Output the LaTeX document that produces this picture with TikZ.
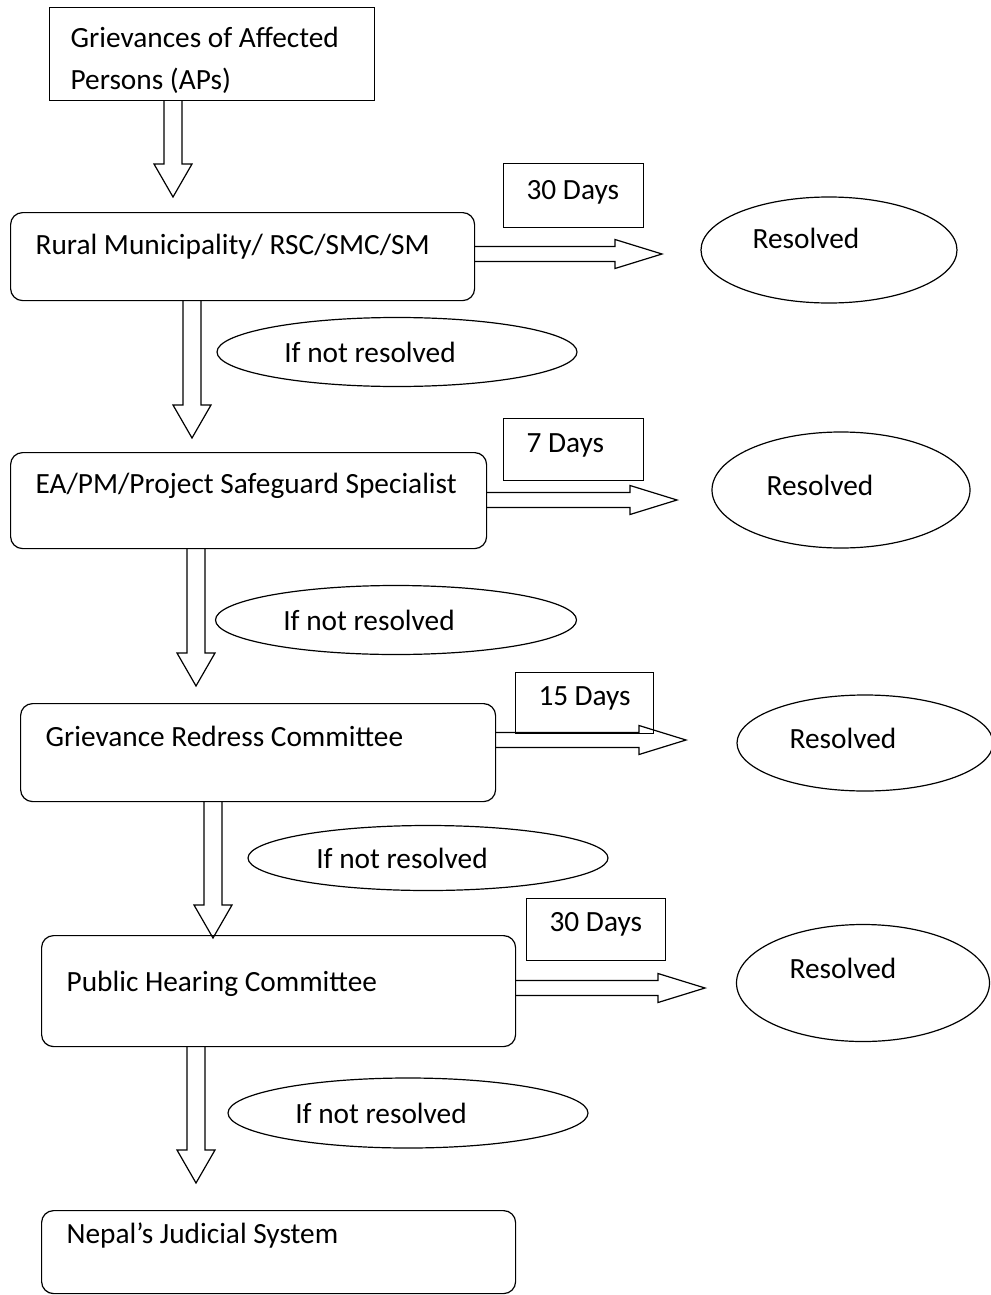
\documentclass[tikz,border=0pt]{standalone}
\usepackage{fontspec}
\setmainfont{Carlito}
\usetikzlibrary{shapes.geometric,calc}

\newcommand{\pxu}{0.75pt}
% hollow block arrow: shaft half width, joint dist/angle, barb dist/angle
\newcommand{\hollowto}[5]{%
  ($(\tikztostart)!#1!90:(\tikztotarget)$) --
  ($(\tikztotarget)!#2!-#3:(\tikztostart)$) --
  ($(\tikztotarget)!#4!-#5:(\tikztostart)$) --
  (\tikztotarget) --
  ($(\tikztotarget)!#4!#5:(\tikztostart)$) --
  ($(\tikztotarget)!#2!#3:(\tikztostart)$) --
  ($(\tikztostart)!#1!-90:(\tikztotarget)$)}

\begin{document}
\begin{tikzpicture}[x=0.75pt, y=-0.75pt, line width=0.9pt, line join=miter]
  \tikzstyle{every node}=[font=\fontsize{22}{31.5}\selectfont, execute at begin node={\spaceskip=0pt\xspaceskip=0pt\relax}]
  \tikzstyle{stage}=[draw, rounded corners=9pt, anchor=north west, inner ysep=0pt, inner xsep=25*\pxu]
  \tikzstyle{plainbox}=[draw, anchor=north west, inner ysep=0pt]
  \tikzstyle{daybox}=[draw, anchor=north west, inner ysep=0pt, inner xsep=23*\pxu]
  \tikzstyle{oval}=[draw, ellipse, inner sep=0pt]
  \tikzstyle{downarrow}=[draw, to path={\hollowto{6.75pt}{25.65pt}{15.26}{28.56pt}{29.93}}]
  \tikzstyle{sidearrow}=[draw, to path={\hollowto{5.625pt}{35.70pt}{9.07}{36.89pt}{17.15}}]

  \useasboundingbox (0,0) rectangle (990,1295);

  % steps
  \node[plainbox, text width=283*\pxu, inner xsep=21*\pxu, text height=40*\pxu, text depth=53*\pxu] (ap) at (49,7) {Grievances of Affected\\Persons (APs)};
  \node[stage, text width=414*\pxu, text height=42*\pxu, text depth=46*\pxu] (rm) at (10,212) {Rural Municipality/ RSC/SMC/SM};
  \node[stage, text width=426*\pxu, text height=41*\pxu, text depth=55*\pxu] (ea) at (10,452) {EA/PM/Project Safeguard Specialist};
  \node[stage, text width=425*\pxu, text height=43*\pxu, text depth=55*\pxu] (grc) at (20,703) {Grievance Redress Committee};
  \node[stage, text width=424*\pxu, text height=56*\pxu, text depth=55*\pxu] (phc) at (41,935) {Public Hearing Committee};
  \node[stage, text width=424*\pxu, text height=33*\pxu, text depth=50*\pxu] (njs) at (41,1210) {Nepal’s Judicial System};

  % time limits
  \node[daybox, text width=94*\pxu, text height=36*\pxu, text depth=28*\pxu] (d1) at (503,163) {30 Days};
  \node[daybox, text width=94*\pxu, text height=34*\pxu, text depth=28*\pxu] (d2) at (503,418) {7 Days};
  \node[daybox, text width=92*\pxu, text height=33*\pxu, text depth=28*\pxu] (d3) at (515,672) {15 Days};
  \node[daybox, text width=93*\pxu, text height=33*\pxu, text depth=29*\pxu] (d4) at (526,898) {30 Days};

  % outcomes
  \node[oval, minimum width=256*\pxu, minimum height=106*\pxu, label={[xshift=-23*\pxu, yshift=12*\pxu]center:Resolved}] (r1) at (829,250) {};
  \node[oval, minimum width=258*\pxu, minimum height=116*\pxu, label={[xshift=-21*\pxu, yshift=5*\pxu]center:Resolved}] (r2) at (841,490) {};
  \node[oval, minimum width=256*\pxu, minimum height=96*\pxu, label={[xshift=-22*\pxu, yshift=5*\pxu]center:Resolved}] (r3) at (865,743) {};
  \node[oval, minimum width=253*\pxu, minimum height=117*\pxu, label={[xshift=-20*\pxu, yshift=15*\pxu]center:Resolved}] (r4) at (863,983) {};

  \node[oval, minimum width=360*\pxu, minimum height=69*\pxu, label={[xshift=-27*\pxu]center:If not resolved}] (n1) at (397,352) {};
  \node[oval, minimum width=361*\pxu, minimum height=69*\pxu, label={[xshift=-27*\pxu]center:If not resolved}] (n2) at (396,620) {};
  \node[oval, minimum width=360*\pxu, minimum height=65*\pxu, label={[xshift=-26*\pxu]center:If not resolved}] (n3) at (428,858) {};
  \node[oval, minimum width=360*\pxu, minimum height=70*\pxu, label={[xshift=-27*\pxu]center:If not resolved}] (n4) at (408,1113) {};

  % arrow tips
  \coordinate (t0) at (173,197);
  \coordinate (t1) at (192,438);
  \coordinate (t2) at (196,686);
  \coordinate (t3) at (213,938);
  \coordinate (t4) at (196,1183);
  \coordinate (s1) at (662,254);
  \coordinate (s2) at (677,500);
  \coordinate (s3) at (686,740);
  \coordinate (s4) at (705,988);

  \path (ap.south -| t0) edge[downarrow] (t0)
        (rm.south -| t1) edge[downarrow] (t1)
        (ea.south -| t2) edge[downarrow] (t2)
        (grc.south -| t3) edge[downarrow] (t3)
        (phc.south -| t4) edge[downarrow] (t4);
  \path (rm.east |- s1) edge[sidearrow] (s1)
        (ea.east |- s2) edge[sidearrow] (s2)
        (grc.east |- s3) edge[sidearrow] (s3)
        (phc.east |- s4) edge[sidearrow] (s4);
\end{tikzpicture}
\end{document}
